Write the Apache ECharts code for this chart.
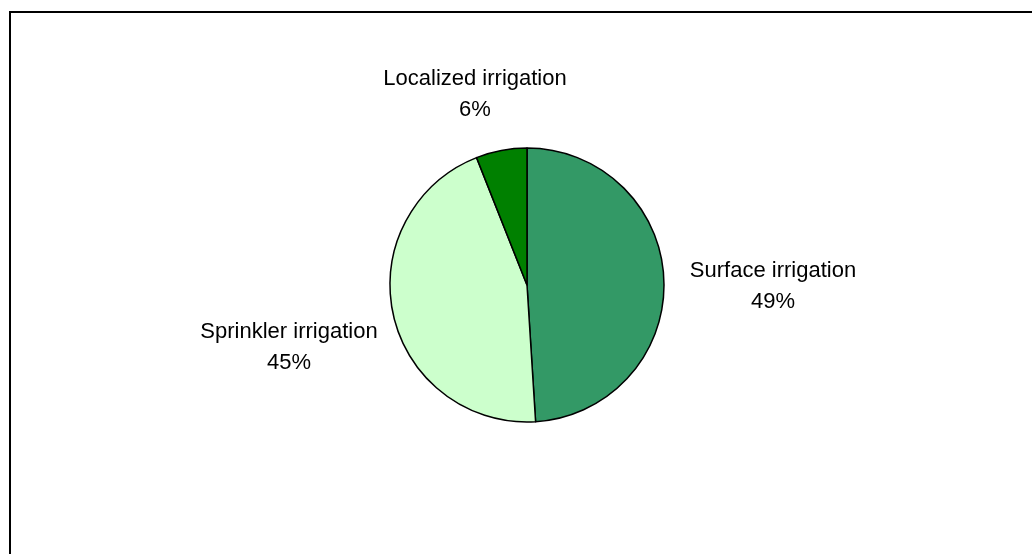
<!DOCTYPE html>
<html>
<head>
<meta charset="utf-8">
<script src="https://cdn.jsdelivr.net/npm/echarts@6/dist/echarts.min.js"></script>
<style>
html,body{margin:0;padding:0;background:#fff;}
#chart{width:1032px;height:554px;}
</style>
</head>
<body>
<div id="chart"></div>
<script>
// Data
const categories = ['Surface irrigation', 'Sprinkler irrigation', 'Localized irrigation'];
const shares = [49, 45, 6];

// Styles / layout
const colors = ['#339966', '#CCFFCC', '#008000'];
const labelAnchors = [[773, 286], [289, 347], [475, 94]];

const chart = echarts.init(document.getElementById('chart'), null, {renderer: 'canvas'});
chart.setOption({
  animation: false,
  backgroundColor: '#ffffff',
  graphic: [{
    type: 'rect',
    shape: {x: 10, y: 12, width: 1100, height: 600},
    style: {fill: 'none', stroke: '#000', lineWidth: 2},
    silent: true
  }],
  series: [{
    type: 'pie',
    center: [527, 285],
    radius: [0, 137],
    startAngle: 90,
    clockwise: true,
    avoidLabelOverlap: false,
    data: categories.map((c, i) => ({
      name: c,
      value: shares[i],
      itemStyle: {color: colors[i]}
    })),
    itemStyle: {borderColor: '#000', borderWidth: 1.5},
    label: {
      show: true,
      position: 'outside',
      formatter: p => p.name + '\n' + Math.round(p.percent) + '%',
      fontFamily: 'Liberation Sans, Arial, sans-serif',
      fontSize: 22,
      lineHeight: 31,
      color: '#000',
      align: 'center'
    },
    labelLine: {show: false},
    labelLayout: params => ({
      x: labelAnchors[params.dataIndex][0],
      y: labelAnchors[params.dataIndex][1],
      align: 'center',
      verticalAlign: 'middle'
    }),
    emphasis: {disabled: true}
  }]
});
</script>
</body>
</html>
